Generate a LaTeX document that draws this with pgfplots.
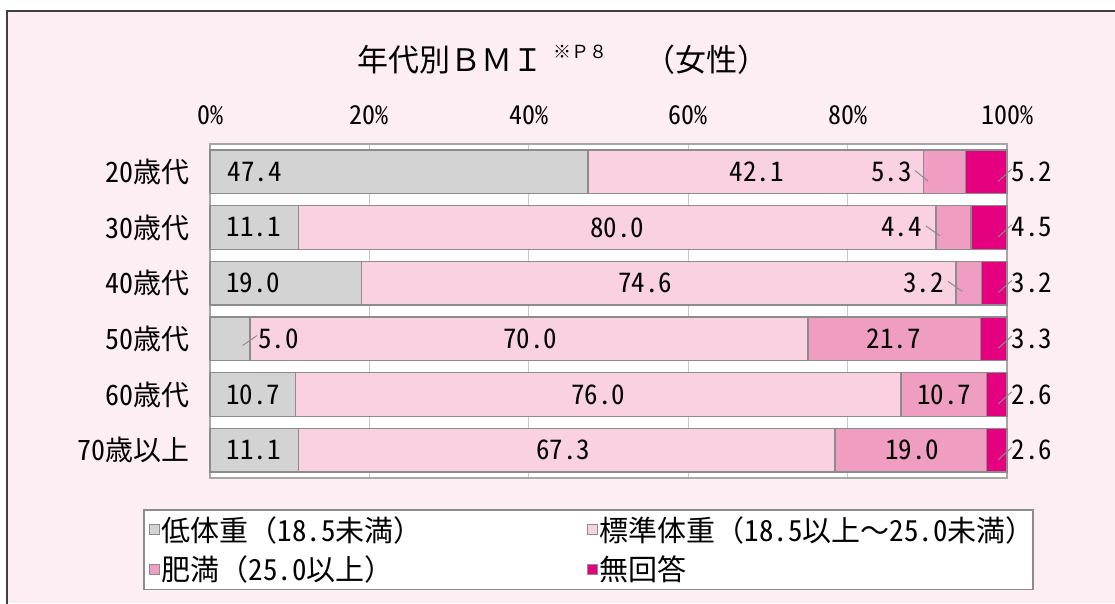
\documentclass[border=0pt]{standalone}
\usepackage{pgfplots}
\pgfplotsset{compat=1.18}
\usepackage{fontspec}
\setmainfont{Noto Sans CJK JP}
\newfontfamily\hw{Noto Sans CJK JP}[RawFeature=+hwid]
\newcommand\h[1]{{\hw #1}}
\definecolor{bgpink}{HTML}{FDEEF4}
\definecolor{clow}{HTML}{D3D3D3}
\definecolor{cstd}{HTML}{F9D1E1}
\definecolor{cobe}{HTML}{F09DC2}
\definecolor{cna}{HTML}{E4007F}
\definecolor{edge}{HTML}{8C8C8C}
\definecolor{frm}{HTML}{A6A6A6}
\tikzset{
  lab/.style={font=\hw\fontsize{27}{27}\selectfont, inner sep=0pt},
  ld/.style={edge, line width=1pt},
}
\newcommand\annot{%
% row 0
\node[lab] at (axis cs:5.6,0) {47.4};
\node[lab] at (axis cs:68.6,0) {42.1};
\node[lab, anchor=east] at (axis cs:88.1,0) {5.3};
\draw[ld] (axis cs:88.5,-0.02) -- (axis cs:90.1,0.17);
\node[lab, anchor=west] at (axis cs:100.6,0) {5.2};
\draw[ld] (axis cs:98.9,0.17) -- (axis cs:100.6,-0.05);
% row 1
\node[lab] at (axis cs:5.5,1) {11.1};
\node[lab] at (axis cs:51.1,1) {80.0};
\node[lab, anchor=east] at (axis cs:89.3,1) {4.4};
\draw[ld] (axis cs:89.8,0.97) -- (axis cs:91.6,1.15);
\node[lab, anchor=west] at (axis cs:100.6,1) {4.5};
\draw[ld] (axis cs:98.9,1.17) -- (axis cs:100.6,0.95);
% row 2
\node[lab] at (axis cs:5.4,2) {19.0};
\node[lab] at (axis cs:54.6,2) {74.6};
\node[lab, anchor=east] at (axis cs:92.1,2) {3.2};
\draw[ld] (axis cs:92.6,1.97) -- (axis cs:94.4,2.15);
\node[lab, anchor=west] at (axis cs:100.6,2) {3.2};
\draw[ld] (axis cs:98.9,2.17) -- (axis cs:100.6,1.95);
% row 3
\node[lab, anchor=west] at (axis cs:6.0,3) {5.0};
\draw[ld] (axis cs:4.1,3.12) -- (axis cs:5.9,2.94);
\node[lab] at (axis cs:40.2,3) {70.0};
\node[lab] at (axis cs:85.8,3) {21.7};
\node[lab, anchor=west] at (axis cs:100.6,3) {3.3};
\draw[ld] (axis cs:98.9,3.17) -- (axis cs:100.6,2.95);
% row 4
\node[lab] at (axis cs:5.4,4) {10.7};
\node[lab] at (axis cs:48.7,4) {76.0};
\node[lab] at (axis cs:92.1,4) {10.7};
\node[lab, anchor=west] at (axis cs:100.6,4) {2.6};
\draw[ld] (axis cs:98.9,4.17) -- (axis cs:100.6,3.95);
% row 5
\node[lab] at (axis cs:5.5,5) {11.1};
\node[lab] at (axis cs:44.3,5) {67.3};
\node[lab] at (axis cs:88.1,5) {19.0};
\node[lab, anchor=west] at (axis cs:100.6,5) {2.6};
\draw[ld] (axis cs:98.9,5.17) -- (axis cs:100.6,4.95);
}
\begin{document}
\begin{tikzpicture}[x=1pt,y=-1pt]
\useasboundingbox (0,0) rectangle (1115,603);
\fill[white] (0,0) rectangle (1115,603);
\fill[bgpink] (7,11) rectangle (1115,603);
\draw[black!75, line width=1.5pt] (7,604) -- (7,11) -- (1116,11);
\node[anchor=base west, inner sep=0, font=\fontsize{31}{31}\selectfont] at (357,71) {年代別ＢＭＩ};
\node[anchor=base west, inner sep=0, font=\fontsize{18}{18}\selectfont] at (553,58) {※Ｐ８};
\node[anchor=base west, inner sep=0, font=\fontsize{31}{31}\selectfont] at (644,71) {（女性）};
\begin{axis}[
  at={(210pt,-478pt)}, anchor=south west,
  width=797pt, height=334pt, scale only axis,
  xbar stacked, bar width=0.785,
  xmin=0, xmax=100, ymin=-0.5, ymax=5.5, y dir=reverse,
  clip=false,
  xtick={0,20,40,60,80,100},
  xticklabels={0\%,20\%,40\%,60\%,80\%,100\%},
  xticklabel pos=right,
  xticklabel style={font=\hw\fontsize{26}{26}\selectfont, yshift=16pt},
  ytick={0,1,2,3,4,5},
  yticklabels={\h{20}歳代,\h{30}歳代,\h{40}歳代,\h{50}歳代,\h{60}歳代,\h{70}歳以上},
  yticklabel style={font=\fontsize{28}{28}\selectfont, xshift=-17pt},
  major tick length=0pt,
  axis line style={frm, line width=1.5pt},
  xmajorgrids, grid style={black!22, line width=1pt},
  axis background/.style={fill=white},
  every axis plot/.append style={draw=edge, line width=1.5pt},
  legend columns=2,
  legend cell align=left,
  legend style={at={(axis description cs:-0.084,-0.093)}, anchor=north west,
    draw=edge, line width=1.5pt, fill=white,
    font=\fontsize{29}{29}\selectfont,
    /tikz/every even column/.append style={column sep=3pt},
    row sep=9pt, inner xsep=5pt, inner ysep=5pt},
  legend image code/.code={\draw[#1, draw=edge, line width=1pt] (4pt,-5pt) rectangle (14pt,5pt);},
  after end axis/.code={\annot},
]
\addplot[fill=clow] coordinates {(47.4,0) (11.1,1) (19.0,2) (5.0,3) (10.7,4) (11.1,5)};
\addlegendentry{\makebox[420pt][l]{低体重（\h{18.5}未満）}}
\addplot[fill=cstd] coordinates {(42.1,0) (80.0,1) (74.6,2) (70.0,3) (76.0,4) (67.3,5)};
\addlegendentry{\makebox[426pt][l]{標準体重（\h{18.5}以上～\h{25.0}未満）}}
\addplot[fill=cobe] coordinates {(5.3,0) (4.4,1) (3.2,2) (21.7,3) (10.7,4) (19.0,5)};
\addlegendentry{肥満（\h{25.0}以上）}
\addplot[fill=cna] coordinates {(5.2,0) (4.5,1) (3.2,2) (3.3,3) (2.6,4) (2.6,5)};
\addlegendentry{無回答}
\end{axis}
\end{tikzpicture}
\end{document}
